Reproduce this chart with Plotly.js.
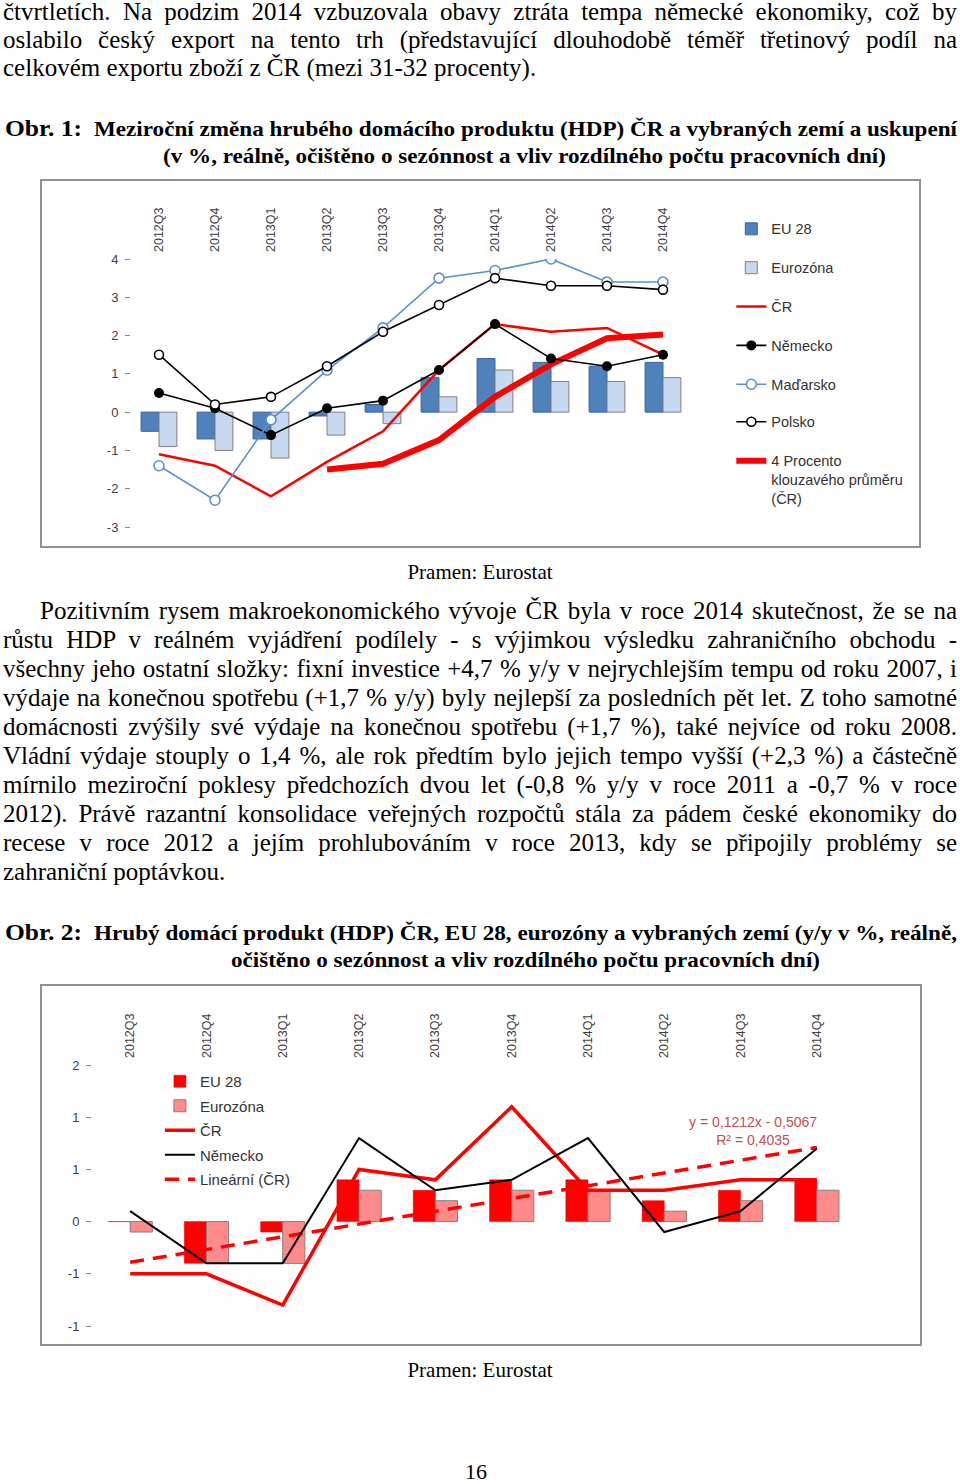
<!DOCTYPE html>
<html><head><meta charset="utf-8">
<script src="https://cdn.plot.ly/plotly-3.0.1.min.js"></script>
<style>
html,body{margin:0;padding:0;background:#fff;}
body{width:960px;height:1484px;position:relative;overflow:hidden;font-family:'Liberation Serif','Times New Roman',serif;color:#000;}
.ln{position:absolute;white-space:nowrap;height:29px;line-height:29px;font-size:25px;}
.ln span{display:inline-block;transform-origin:0 50%;}
.box{position:absolute;border:2px solid #909090;box-sizing:border-box;pointer-events:none;}
.plot{position:absolute;}
</style></head><body>
<div id="c1" class="plot" style="left:41px;top:180px;width:879px;height:367px"></div>
<div class="box" style="left:40px;top:179px;width:881px;height:369px"></div>
<div id="c2" class="plot" style="left:41px;top:985px;width:880px;height:360px"></div>
<div class="box" style="left:40px;top:984px;width:882px;height:362px"></div>
<script>
// ---------- data ----------
const quarters = ['2012Q3','2012Q4','2013Q1','2013Q2','2013Q3','2013Q4','2014Q1','2014Q2','2014Q3','2014Q4'];

// Obr. 1 (y/y, %)
const eu28_yy = [-0.5,-0.7,-0.7,-0.1,0.2,0.9,1.4,1.3,1.2,1.3];
const ez_yy   = [-0.9,-1.0,-1.2,-0.6,-0.3,0.4,1.1,0.8,0.8,0.9];
const cz_yy   = [-1.1,-1.4,-2.2,-1.3,-0.5,1.1,2.3,2.1,2.2,1.5];
const de_yy   = [0.5,0.1,-0.6,0.1,0.3,1.1,2.3,1.4,1.2,1.5];
const hu_yy   = [-1.4,-2.3,-0.2,1.1,2.2,3.5,3.7,4.0,3.4,3.4];
const pl_yy   = [1.5,0.2,0.4,1.2,2.1,2.8,3.5,3.3,3.3,3.2];
const cz_ma4  = [null,null,null,-1.5,-1.35,-0.73,0.4,1.25,1.93,2.03];
const y1Range = [-3,4];
const y1Ticks = [-3,-2,-1,0,1,2,3,4];
const y1TickText = ['-3','-2','-1','0','1','2','3','4'];

// Obr. 2 (q/q, %)
const eu28_qq = [0.0,-0.4,-0.1,0.4,0.3,0.4,0.4,0.2,0.3,0.4];
const ez_qq   = [-0.1,-0.4,-0.4,0.3,0.2,0.3,0.3,0.1,0.2,0.3];
const cz_qq   = [-0.5,-0.5,-0.8,0.5,0.4,1.1,0.3,0.3,0.4,0.4];
const de_qq   = [0.1,-0.4,-0.4,0.8,0.3,0.4,0.8,-0.1,0.1,0.7];
const trendX  = ['2012Q3','2014Q4'];
const trendCZ = [-0.39,0.71];
const trendLabel = 'y = 0,1212x - 0,5067<br>R² = 0,4035';
const y2Range = [-1,1.5];
const y2Ticks = [-1,-0.5,0,0.5,1,1.5];
const y2TickText = ['-1','-1','0','1','1','2'];

// ---------- text ----------
function line(txt, x1, x2, cy, mode, st){
  const d=document.createElement('div'); d.className='ln';
  d.style.left=x1+'px'; d.style.top=(cy-16)+'px';
  const s=document.createElement('span'); s.textContent=txt;
  if(st) Object.assign(s.style, st);
  d.appendChild(s); document.body.appendChild(d);
  const w=s.getBoundingClientRect().width, target=x2-x1;
  if(mode==='justify'){
    const n=(txt.match(/ /g)||[]).length;
    if(w<target && n) s.style.wordSpacing=((target-w)/n)+'px';
    else if(w>target) s.style.transform='scaleX('+(target/w)+')';
  } else if(mode==='fit'){
    s.style.transform='scaleX('+(target/w)+')';
  } else if(mode==='center'){
    d.style.left=(x1-w/2)+'px';
  }
}
const B={fontWeight:'bold',fontSize:'22px'};
line('čtvrtletích. Na podzim 2014 vzbuzovala obavy ztráta tempa německé ekonomiky, což by',3,957,13,'justify');
line('oslabilo český export na tento trh (představující dlouhodobě téměř třetinový podíl na',3,957,41,'justify');
line('celkovém exportu zboží z ČR (mezi 31-32 procenty).',3,0,69,'left');

line('Obr. 1:',5,82,129,'fit',{fontWeight:'bold',fontSize:'24px'});
line('Meziroční změna hrubého domácího produktu (HDP) ČR a vybraných zemí a uskupení',94,957,129,'fit',B);
line('(v %, reálně, očištěno o sezónnost a vliv rozdílného počtu pracovních dní)',163,886,156,'fit',B);

line('Pramen: Eurostat',480,0,572,'center',{fontSize:'21px'});

const para=[
 'Pozitivním rysem makroekonomického vývoje ČR byla v roce 2014 skutečnost, že se na',
 'růstu HDP v reálném vyjádření podílely - s výjimkou výsledku zahraničního obchodu -',
 'všechny jeho ostatní složky: fixní investice +4,7 % y/y v nejrychlejším tempu od roku 2007, i',
 'výdaje na konečnou spotřebu (+1,7 % y/y) byly nejlepší za posledních pět let. Z toho samotné',
 'domácnosti zvýšily své výdaje na konečnou spotřebu (+1,7 %), také nejvíce od roku 2008.',
 'Vládní výdaje stouply o 1,4 %, ale rok předtím bylo jejich tempo vyšší (+2,3 %) a částečně',
 'mírnilo meziroční poklesy předchozích dvou let (-0,8 % y/y v roce 2011 a -0,7 % v roce',
 '2012). Právě razantní konsolidace veřejných rozpočtů stála za pádem české ekonomiky do',
 'recese v roce 2012 a jejím prohlubováním v roce 2013, kdy se připojily problémy se',
 'zahraniční poptávkou.'
];
para.forEach((t,i)=>{
  const last=i===para.length-1;
  line(t, i===0?40:3, 957, 612+29*i, last?'left':'justify');
});

line('Obr. 2:',5,82,933,'fit',{fontWeight:'bold',fontSize:'24px'});
line('Hrubý domácí produkt (HDP) ČR, EU 28, eurozóny a vybraných zemí (y/y v %, reálně,',94,957,933,'fit',B);
line('očištěno o sezónnost a vliv rozdílného počtu pracovních dní)',231,820,960,'fit',B);

line('Pramen: Eurostat',480,0,1370,'center',{fontSize:'21px'});
line('16',476,0,1472,'center',{fontSize:'22px'});

// ---------- charts ----------
const FONT='Liberation Sans, Arial, sans-serif';
const AX='#868686';
const bounds=quarters.map((q,i)=>i-0.5).concat([quarters.length-0.5]);
const cfg={staticPlot:true,displayModeBar:false};
const legBase={xanchor:'left',yanchor:'top',traceorder:'grouped',valign:'top',bgcolor:'rgba(0,0,0,0)'};

const t1=[
 {type:'bar',x:quarters,y:eu28_yy,name:'EU 28',legendgroup:'a',marker:{color:'#4f81bd',line:{color:'#3a6496',width:1}},zorder:0},
 {type:'bar',x:quarters,y:ez_yy,name:'Eurozóna',legendgroup:'b',marker:{color:'#c6d9f1',line:{color:'#7f7f7f',width:1}},zorder:0},
 {type:'scatter',mode:'lines',x:quarters,y:cz_yy,name:'ČR',legendgroup:'c',line:{color:'#ff0000',width:2.5},zorder:1},
 {type:'scatter',mode:'lines+markers',x:quarters,y:de_yy,name:'Německo',legendgroup:'d',line:{color:'#000',width:1.6},marker:{color:'#000',size:10},zorder:2},
 {type:'scatter',mode:'lines+markers',x:quarters,y:hu_yy,name:'Maďarsko',legendgroup:'e',line:{color:'#5b8fd0',width:1.6},marker:{color:'#fff',size:10,line:{color:'#5b8fd0',width:1.6}},zorder:2},
 {type:'scatter',mode:'lines+markers',x:quarters,y:pl_yy,name:'Polsko',legendgroup:'f',legend:'legend2',line:{color:'#000',width:1.6},marker:{color:'#fff',size:9,line:{color:'#000',width:1.6}},zorder:2},
 {type:'scatter',mode:'lines',x:quarters,y:cz_ma4,name:'4 Procento<br>klouzavého průměru<br>(ČR)',legendgroup:'g',legend:'legend2',line:{color:'#ff0000',width:6},zorder:1}
];
const leg1Font={family:FONT,size:14.5,color:'#333'};
const l1={
 width:879,height:367,margin:{l:90,r:226,t:79,b:20},
 paper_bgcolor:'rgba(0,0,0,0)',plot_bgcolor:'rgba(0,0,0,0)',
 font:{family:FONT,size:12,color:'#404040'},
 barmode:'group',bargap:0.36,bargroupgap:0,
 showlegend:true,
 legend:Object.assign({},legBase,{x:1.072,y:1.172,tracegroupgap:17,font:leg1Font}),
 legend2:Object.assign({},legBase,{x:1.072,y:0.452,tracegroupgap:17,font:leg1Font}),
 xaxis:{type:'category',side:'top',tickangle:-90,showline:false,showgrid:false,zeroline:false,ticks:'',range:[-0.5,9.5],tickfont:{size:12.5},ticklabelstandoff:6},
 xaxis2:{overlaying:'x',anchor:'free',side:'bottom',position:(0-y1Range[0])/(y1Range[1]-y1Range[0]),range:[-0.5,9.5],tickmode:'array',tickvals:bounds,showticklabels:false,ticks:'outside',ticklen:5,tickcolor:AX,showline:true,linecolor:AX,linewidth:1,showgrid:false,zeroline:false},
 yaxis:{range:y1Range,tickmode:'array',tickvals:y1Ticks,ticktext:y1TickText,ticks:'outside',ticklen:5,tickcolor:AX,showline:true,linecolor:AX,showgrid:false,zeroline:false,tickfont:{size:13},ticklabelstandoff:4}
};
Plotly.newPlot('c1',t1,l1,cfg);

const t2=[
 {type:'bar',x:quarters,y:eu28_qq,name:'EU 28',legendgroup:'a',marker:{color:'#ff0000',line:{color:'#e00000',width:0.5}},zorder:0},
 {type:'bar',x:quarters,y:ez_qq,name:'Eurozóna',legendgroup:'b',marker:{color:'#ff8a8a',line:{color:'#7f7f7f',width:1}},zorder:0},
 {type:'scatter',mode:'lines',x:quarters,y:cz_qq,name:'ČR',legendgroup:'c',line:{color:'#ff0000',width:3.5},zorder:2},
 {type:'scatter',mode:'lines',x:quarters,y:de_qq,name:'Německo',legendgroup:'d',line:{color:'#000',width:2},zorder:3},
 {type:'scatter',mode:'lines',x:trendX,y:trendCZ,name:'Lineární (ČR)',legendgroup:'e',line:{color:'#ff0000',width:3.5,dash:'14px,9px'},zorder:1}
];
const l2={
 width:880,height:360,margin:{l:51,r:66,t:80,b:19},
 paper_bgcolor:'rgba(0,0,0,0)',plot_bgcolor:'rgba(0,0,0,0)',
 font:{family:FONT,size:12,color:'#404040'},
 barmode:'group',bargap:0.42,bargroupgap:0,
 showlegend:true,
 legend:Object.assign({},legBase,{x:0.089,y:1.0,tracegroupgap:2,font:{family:FONT,size:15,color:'#333'}}),
 xaxis:{type:'category',side:'top',tickangle:-90,showline:false,showgrid:false,zeroline:false,ticks:'',range:[-0.5,9.5],tickfont:{size:12.5},ticklabelstandoff:6},
 xaxis2:{overlaying:'x',anchor:'free',side:'bottom',position:(0-y2Range[0])/(y2Range[1]-y2Range[0]),range:[-0.5,9.5],tickmode:'array',tickvals:bounds,showticklabels:false,ticks:'outside',ticklen:5,tickcolor:AX,showline:true,linecolor:AX,linewidth:1,showgrid:false,zeroline:false},
 yaxis:{range:y2Range,tickmode:'array',tickvals:y2Ticks,ticktext:y2TickText,ticks:'outside',ticklen:5,tickcolor:AX,showline:true,linecolor:AX,showgrid:false,zeroline:false,tickfont:{size:13},ticklabelstandoff:4},
 annotations:[{xref:'paper',yref:'paper',x:0.866,y:0.747,xanchor:'center',yanchor:'middle',text:trendLabel,showarrow:false,font:{family:FONT,size:14,color:'#c0504d'},align:'center'}]
};
Plotly.newPlot('c2',t2,l2,cfg);
</script>
</body></html>
